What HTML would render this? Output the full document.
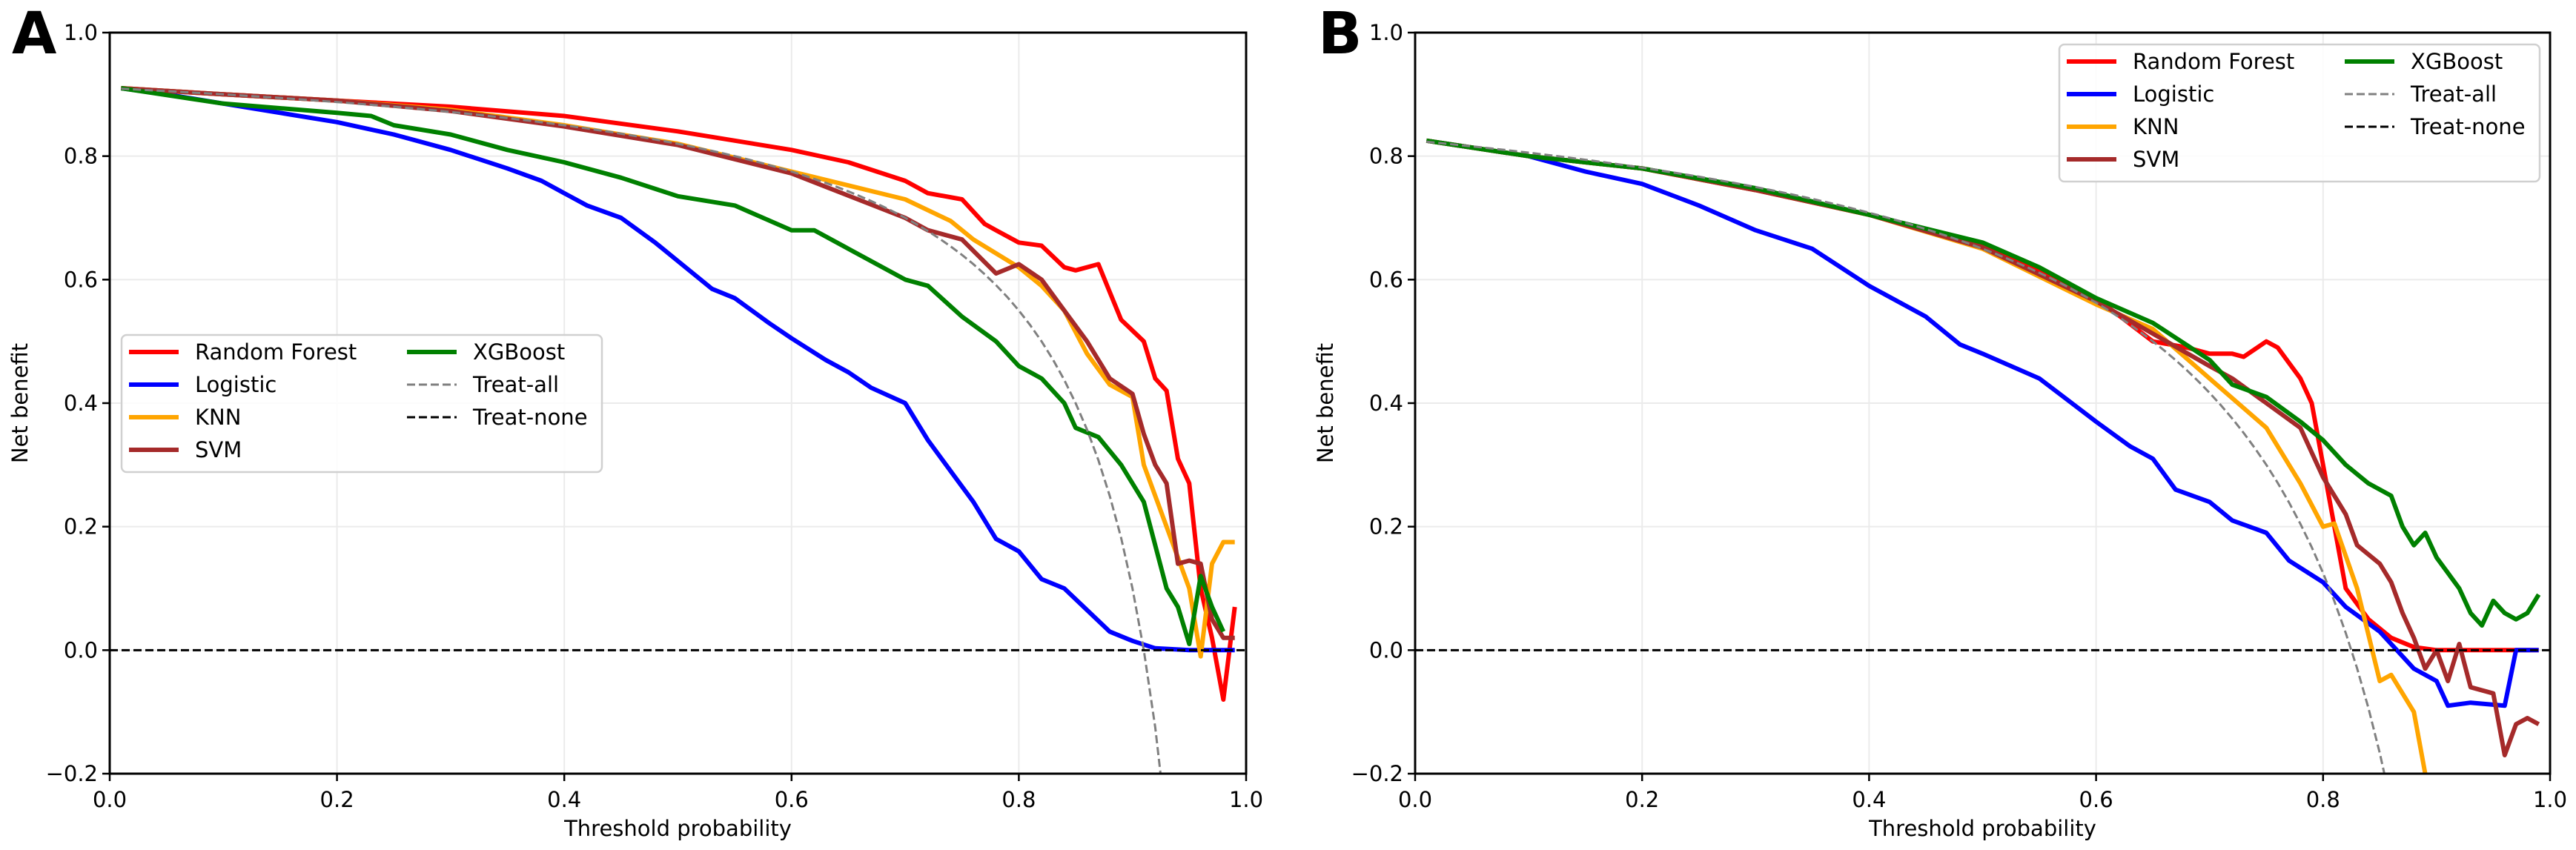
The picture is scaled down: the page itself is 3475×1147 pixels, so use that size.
<!DOCTYPE html>
<html><head><meta charset="utf-8"><style>
html,body{margin:0;padding:0;background:#fff;width:3475px;height:1147px;overflow:hidden;}
svg{display:block;font-family:"DejaVu Sans","Liberation Sans",sans-serif;}
</style></head><body>
<svg id="chart" width="3475" height="1147" viewBox="0 0 3475 1147" xmlns="http://www.w3.org/2000/svg"></svg>
<script>
const xTicks=[0,0.2,0.4,0.6,0.8,1.0];
const yTicks=[-0.2,0,0.2,0.4,0.6,0.8,1.0];
const xTickLabels=["0.0","0.2","0.4","0.6","0.8","1.0"];
const yTickLabels=["\u22120.2","0.0","0.2","0.4","0.6","0.8","1.0"];
const seriesNames=["Random Forest","Logistic","KNN","SVM","XGBoost"];
const seriesColors=["#ff0000","#0000ff","#ffa500","#a52a2a","#008000"];
const prevalenceA=0.91;
const prevalenceB=0.825;
// Panel A
const rfAx=[0.01,0.1,0.2,0.3,0.4,0.5,0.6,0.65,0.7,0.72,0.75,0.77,0.78,0.8,0.82,0.84,0.85,0.86,0.87,0.88,0.89,0.91,0.92,0.93,0.94,0.95,0.96,0.97,0.98,0.99];
const rfAy=[0.91,0.9,0.89,0.88,0.865,0.84,0.81,0.79,0.76,0.74,0.73,0.69,0.68,0.66,0.655,0.62,0.615,0.62,0.625,0.58,0.535,0.5,0.44,0.42,0.31,0.27,0.1,0.02,-0.08,0.07];
const lgAx=[0.01,0.05,0.1,0.15,0.2,0.25,0.3,0.35,0.38,0.4,0.42,0.45,0.48,0.5,0.53,0.55,0.58,0.6,0.63,0.65,0.67,0.7,0.72,0.74,0.76,0.78,0.8,0.82,0.84,0.86,0.88,0.9,0.92,0.95,0.99];
const lgAy=[0.91,0.9,0.885,0.87,0.855,0.835,0.81,0.78,0.76,0.74,0.72,0.7,0.66,0.63,0.585,0.57,0.53,0.505,0.47,0.45,0.425,0.4,0.34,0.29,0.24,0.18,0.16,0.115,0.1,0.065,0.03,0.015,0.003,0,0];
const knAx=[0.01,0.1,0.2,0.3,0.4,0.5,0.6,0.7,0.74,0.76,0.8,0.82,0.84,0.86,0.88,0.9,0.91,0.93,0.95,0.96,0.97,0.98,0.99];
const knAy=[0.91,0.9,0.89,0.875,0.85,0.82,0.775,0.73,0.695,0.665,0.62,0.59,0.55,0.48,0.43,0.41,0.3,0.2,0.1,-0.01,0.14,0.175,0.175];
const svAx=[0.01,0.1,0.2,0.3,0.4,0.5,0.6,0.7,0.72,0.75,0.78,0.8,0.82,0.84,0.86,0.88,0.9,0.91,0.92,0.93,0.94,0.95,0.96,0.97,0.98,0.99];
const svAy=[0.91,0.9,0.89,0.873,0.848,0.818,0.772,0.7,0.68,0.665,0.61,0.625,0.6,0.55,0.5,0.44,0.415,0.35,0.3,0.27,0.14,0.145,0.14,0.05,0.02,0.02];
const xgAx=[0.01,0.1,0.2,0.23,0.25,0.3,0.35,0.4,0.45,0.5,0.55,0.6,0.62,0.65,0.7,0.72,0.75,0.78,0.8,0.82,0.84,0.85,0.87,0.89,0.91,0.93,0.94,0.95,0.96,0.97,0.98];
const xgAy=[0.91,0.885,0.87,0.865,0.85,0.835,0.81,0.79,0.765,0.735,0.72,0.68,0.68,0.65,0.6,0.59,0.54,0.5,0.46,0.44,0.4,0.36,0.345,0.3,0.24,0.1,0.07,0.01,0.12,0.07,0.03];
// Panel B
const rfBx=[0.01,0.1,0.2,0.3,0.4,0.5,0.6,0.65,0.68,0.7,0.72,0.73,0.75,0.76,0.78,0.79,0.8,0.82,0.84,0.86,0.88,0.9,0.99];
const rfBy=[0.825,0.8,0.78,0.745,0.705,0.655,0.57,0.5,0.49,0.48,0.48,0.475,0.5,0.49,0.44,0.4,0.3,0.1,0.05,0.02,0.005,0,0];
const lgBx=[0.01,0.1,0.15,0.2,0.25,0.3,0.35,0.4,0.45,0.48,0.5,0.55,0.6,0.63,0.65,0.67,0.7,0.72,0.75,0.77,0.8,0.82,0.85,0.88,0.9,0.91,0.93,0.96,0.97,0.99];
const lgBy=[0.825,0.8,0.775,0.755,0.72,0.68,0.65,0.59,0.54,0.495,0.48,0.44,0.37,0.33,0.31,0.26,0.24,0.21,0.19,0.145,0.11,0.07,0.03,-0.03,-0.05,-0.09,-0.085,-0.09,0,0];
const knBx=[0.01,0.1,0.2,0.3,0.4,0.5,0.6,0.65,0.7,0.75,0.78,0.8,0.81,0.83,0.85,0.86,0.88,0.89,0.9];
const knBy=[0.825,0.8,0.78,0.745,0.705,0.65,0.56,0.52,0.44,0.36,0.27,0.2,0.205,0.1,-0.05,-0.04,-0.1,-0.2,-0.3];
const svBx=[0.01,0.1,0.2,0.3,0.4,0.5,0.6,0.7,0.72,0.75,0.78,0.8,0.82,0.83,0.85,0.86,0.87,0.88,0.89,0.9,0.91,0.92,0.93,0.95,0.96,0.97,0.98,0.99];
const svBy=[0.825,0.8,0.78,0.745,0.705,0.652,0.565,0.46,0.44,0.4,0.36,0.28,0.22,0.17,0.14,0.11,0.06,0.02,-0.03,0,-0.05,0.01,-0.06,-0.07,-0.17,-0.12,-0.11,-0.12];
const xgBx=[0.01,0.1,0.2,0.3,0.4,0.5,0.55,0.6,0.65,0.7,0.72,0.75,0.78,0.8,0.82,0.84,0.86,0.87,0.88,0.89,0.9,0.92,0.93,0.94,0.95,0.96,0.97,0.98,0.99];
const xgBy=[0.825,0.8,0.78,0.748,0.705,0.66,0.62,0.57,0.53,0.47,0.43,0.41,0.37,0.34,0.3,0.27,0.25,0.2,0.17,0.19,0.15,0.1,0.06,0.04,0.08,0.06,0.05,0.06,0.09];
const thresholds=[];for(let i=1;i<=99;i++)thresholds.push(i/100);

const NS="http://www.w3.org/2000/svg";
const svg=document.getElementById('chart');
function mk(tag,attrs,parent){const e=document.createElementNS(NS,tag);for(const k in attrs)e.setAttribute(k,attrs[k]);(parent||svg).appendChild(e);return e;}

function panel(id,L,R,T,B,series,prev,legendBox,letter,letterX){
  const g=mk('g',{});
  
  
  const sx=v=>L+(R-L)*v;
  const sy=v=>B-(B-T)*(v+0.2)/1.2;
  const clipId='clip'+id;
  const cp=mk('clipPath',{id:clipId},g);mk('rect',{x:L,y:T,width:R-L,height:B-T},cp);
  xTicks.forEach((t,i)=>{
    const gl=mk('line',{x1:sx(t),x2:sx(t),y1:T,y2:B,stroke:'#ebebeb','stroke-width':2},g);
    
    mk('line',{x1:sx(t),x2:sx(t),y1:B,y2:B+10,stroke:'#000','stroke-width':2.5},g);
    const tx=mk('text',{x:sx(t),y:B+45,'font-size':29,'text-anchor':'middle'},g);tx.textContent=xTickLabels[i];
    
  });
  yTicks.forEach((t,i)=>{
    const gl=mk('line',{x1:L,x2:R,y1:sy(t),y2:sy(t),stroke:'#ebebeb','stroke-width':2},g);
    
    mk('line',{x1:L-10,x2:L,y1:sy(t),y2:sy(t),stroke:'#000','stroke-width':2.5},g);
    const tx=mk('text',{x:L-16,y:sy(t)+10,'font-size':29,'text-anchor':'end'},g);tx.textContent=yTickLabels[i];
    
  });
  const lines=mk('g',{'clip-path':'url(#'+clipId+')'},g);
  series.forEach((s,i)=>{
    const d=s[0].map((x,j)=>(j?'L':'M')+sx(x).toFixed(1)+' '+sy(s[1][j]).toFixed(1)).join(' ');
    const p=mk('path',{d:d,fill:'none',stroke:seriesColors[i],'stroke-width':6,'stroke-linejoin':'round'},lines);
    
    
  });
  const ta=thresholds.map((t,j)=>(j?'L':'M')+sx(t).toFixed(1)+' '+sy(prev-(1-prev)*t/(1-t)).toFixed(1)).join(' ');
  const tap=mk('path',{d:ta,fill:'none',stroke:'#808080','stroke-width':3,'stroke-dasharray':'11 5'},lines);
  
  const tn=mk('line',{x1:sx(0),x2:sx(1),y1:sy(0),y2:sy(0),stroke:'#000','stroke-width':3,'stroke-dasharray':'11 5'},lines);
  
  const fr=mk('rect',{x:L,y:T,width:R-L,height:B-T,fill:'none',stroke:'#000','stroke-width':3},g);
  
  const xl=mk('text',{x:(L+R)/2,y:1128,'font-size':29,'text-anchor':'middle'},g);xl.textContent='Threshold probability';
  
  const yl=mk('text',{x:0,y:0,'font-size':29,'text-anchor':'middle',transform:'translate('+(L-111)+','+((T+B)/2)+') rotate(-90)'},g);yl.textContent='Net benefit';
  
  const lt=mk('text',{x:letterX,y:72,'font-size':78,'font-weight':'bold'},g);lt.textContent=letter;
  
  const [bx,by]=legendBox;
  const lg=mk('g',{},g);
  mk('rect',{x:bx,y:by,width:648,height:185,rx:7,fill:'#fff','fill-opacity':0.85,stroke:'#d0d0d0','stroke-width':2.5},lg);
  const entries=seriesNames.map((n,i)=>({n:n,c:seriesColors[i],w:6,dash:null}));
  entries.push({n:'Treat-all',c:'#808080',w:3,dash:'11 5'});
  entries.push({n:'Treat-none',c:'#000',w:3,dash:'11 5'});
  const pos=[[0,0],[0,1],[0,2],[0,3],[1,0],[1,1],[1,2]];
  entries.forEach((e,i)=>{
    const cx=bx+(pos[i][0]?385:10), cy=by+23+pos[i][1]*44;
    const eg=mk('g',{},lg);
    const la={x1:cx,x2:cx+67,y1:cy,y2:cy,stroke:e.c,'stroke-width':e.w};if(e.dash)la['stroke-dasharray']=e.dash;
    mk('line',la,eg);
    const t=mk('text',{x:cx+89,y:cy+10,'font-size':29},eg);t.textContent=e.n;
  });
}
panel('a',148,1681,44,1044,[[rfAx,rfAy],[lgAx,lgAy],[knAx,knAy],[svAx,svAy],[xgAx,xgAy]],prevalenceA,[164,452],'A',16);
panel('b',1909,3440,44,1044,[[rfBx,rfBy],[lgBx,lgBy],[knBx,knBy],[svBx,svBy],[xgBx,xgBy]],prevalenceB,[2778,60],'B',1778);
</script>
</body></html>
